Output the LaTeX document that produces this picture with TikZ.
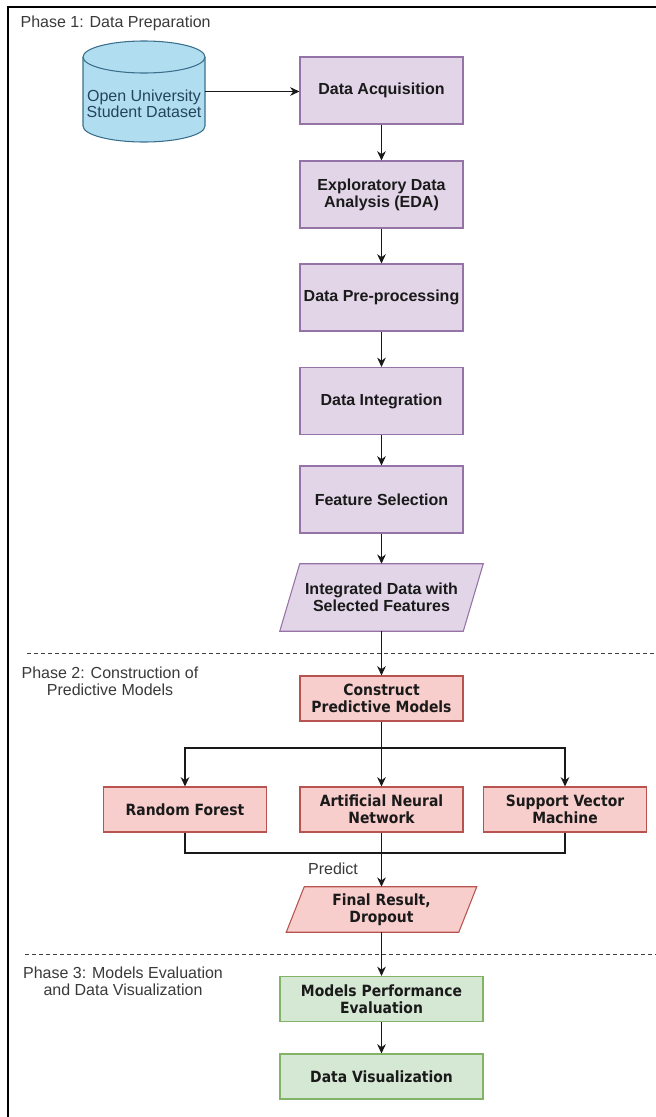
\documentclass[tikz,border=0pt]{standalone}
\usepackage{fontspec}
\setmainfont{Liberation Sans}
\newfontfamily\tahfont{DejaVu Sans Condensed}
\usetikzlibrary{arrows.meta,backgrounds,calc}
\definecolor{cylF}{HTML}{B1DDF0}
\definecolor{cylS}{HTML}{3A6F8C}
\definecolor{cylT}{HTML}{23445D}
\definecolor{purpF}{HTML}{E1D5E7}
\definecolor{purpS}{HTML}{9673A6}
\definecolor{redF}{HTML}{F8CECC}
\definecolor{redS}{HTML}{B85450}
\definecolor{grnF}{HTML}{D5E8D4}
\definecolor{grnS}{HTML}{82B366}
\definecolor{txt}{HTML}{1A1A1A}
\definecolor{lblc}{HTML}{3A3A3A}
\begin{document}
\begin{tikzpicture}[x=0.75pt,y=0.75pt,
  every node/.style={inner sep=1pt},
  lbl/.style={text=lblc,font=\fontsize{12}{12.75}\selectfont,align=center},
  pbox/.style={draw=purpS,fill=purpF,line width=0.8pt,minimum width=122.25pt,minimum height=50.25pt,
    text=txt,align=center,font=\fontsize{12}{12.75}\selectfont\bfseries},
  rbox/.style={draw=redS,fill=redF,line width=0.8pt,minimum width=122.25pt,minimum height=33.75pt,
    text=txt,align=center,font=\tahfont\fontsize{11.6}{12.75}\selectfont\bfseries},
  gbox/.style={draw=grnS,fill=grnF,line width=0.8pt,minimum width=152.25pt,minimum height=33.75pt,
    text=txt,align=center,font=\tahfont\fontsize{11.6}{12.75}\selectfont\bfseries},
  paratext/.style={align=center,text=txt},
  conn/.style={draw=black!90,line width=0.9pt},
  arr/.style={conn,-{Stealth[length=7pt,width=6.5pt]}},
  phaseline/.style={draw=black!75,line width=0.75pt,dash pattern=on 3pt off 2.25pt}
]
\useasboundingbox (0,0) rectangle (656,-1117);
\begin{scope}[on background layer]
  \fill[white] (0,0) rectangle (656,-1117);
\end{scope}

% frame
\draw[line width=1.5pt] (8,-1117) -- (8,-7) -- (656,-7);

% phase separators
\draw[phaseline] (27,-653.5) -- (656,-653.5);
\draw[phaseline] (25,-954.5) -- (656,-954.5);

% phase labels
\node[lbl,anchor=west] (p1) at (19,-23) {Phase 1: Data Preparation};
\node[lbl] (p2) at (110,-681.5) {Phase 2: Construction of\\Predictive Models};
\node[lbl] (p3) at (123,-981.5) {Phase 3: Models Evaluation\\and Data Visualization};

% cylinder (data source)
\node[minimum width=91.5pt,minimum height=75.75pt] (db) at (144,-91.5) {};
\begin{scope}[on background layer]
  \path[fill=cylF] (83,-57) -- (83,-126) arc[start angle=180,end angle=360,x radius=61,y radius=16] -- (205,-57) -- cycle;
  \draw[draw=cylS,line width=0.8pt] (83,-57) -- (83,-126) arc[start angle=180,end angle=360,x radius=61,y radius=16] -- (205,-57);
  \draw[draw=cylS,fill=cylF,line width=0.8pt] (144,-57) ellipse[x radius=61,y radius=16];
\end{scope}
\node[text=cylT,align=center,font=\fontsize{12}{11}\selectfont] (dbt) at (144,-104) {Open University\\Student Dataset};

% phase 1 boxes
\node[pbox] (da)  at (381.5,-90.5)  {Data Acquisition};
\node[pbox] (eda) at (381.5,-194.5) {Exploratory Data\\Analysis (EDA)};
\node[pbox] (dpp) at (381.5,-297.5) {Data Pre-processing};
\node[pbox] (di)  at (381.5,-401)   {Data Integration};
\node[pbox] (fs)  at (381.5,-499.5) {Feature Selection};

% parallelogram 1
\node[paratext,minimum width=137.25pt,minimum height=50.25pt,font=\fontsize{12}{12.75}\selectfont\bfseries] (ids) at (381.5,-597.5) {Integrated Data with\\Selected Features};
\begin{scope}[on background layer]
  \draw[draw=purpS,fill=purpF,line width=0.8pt]
    ($(ids.north west)+(10,0)$) -- ($(ids.north east)+(10,0)$) -- ($(ids.south east)+(-10,0)$) -- ($(ids.south west)+(-10,0)$) -- cycle;
\end{scope}

% phase 2
\node[rbox] (con) at (381.5,-698.5) {Construct\\Predictive Models};
\node[rbox] (rf)  at (185,-809.5)   {Random Forest};
\node[rbox] (ann) at (381.5,-809.5) {Artificial Neural\\Network};
\node[rbox] (svm) at (565,-809.5)   {Support Vector\\Machine};

\node[paratext,minimum width=129pt,minimum height=33.75pt,font=\tahfont\fontsize{11.6}{12.75}\selectfont\bfseries] (fr) at (381.5,-909.5) {Final Result,\\Dropout};
\begin{scope}[on background layer]
  \draw[draw=redS,fill=redF,line width=0.8pt]
    ($(fr.north west)+(9,0)$) -- ($(fr.north east)+(9,0)$) -- ($(fr.south east)+(-9,0)$) -- ($(fr.south west)+(-9,0)$) -- cycle;
\end{scope}

% phase 3
\node[gbox] (mpe) at (381.5,-999)    {Models Performance\\Evaluation};
\node[gbox] (dv)  at (381.5,-1076.5) {Data Visualization};

% connectors
\draw[arr] (db.east) -- (db.east -| da.west);
\draw[arr] (da) -- (eda);
\draw[arr] (eda) -- (dpp);
\draw[arr] (dpp) -- (di);
\draw[arr] (di) -- (fs);
\draw[arr] (fs) -- (ids);
\draw[arr] (ids) -- (con);

\coordinate (split) at (381.5,-748);
\coordinate (merge) at (381.5,-853);
\draw[conn] (con) -- (split);
\draw[arr] (split) -| (rf.north);
\draw[arr] (split) -| (svm.north);
\draw[arr] (split) -- (ann.north);
\draw[conn] (rf.south) |- (merge);
\draw[conn] (svm.south) |- (merge);
\draw[arr] (ann.south) -- (fr.north);
\node[lbl] (pred) at (333,-869) {Predict};

\draw[arr] (fr) -- (mpe);
\draw[arr] (mpe) -- (dv);
\end{tikzpicture}
\end{document}
